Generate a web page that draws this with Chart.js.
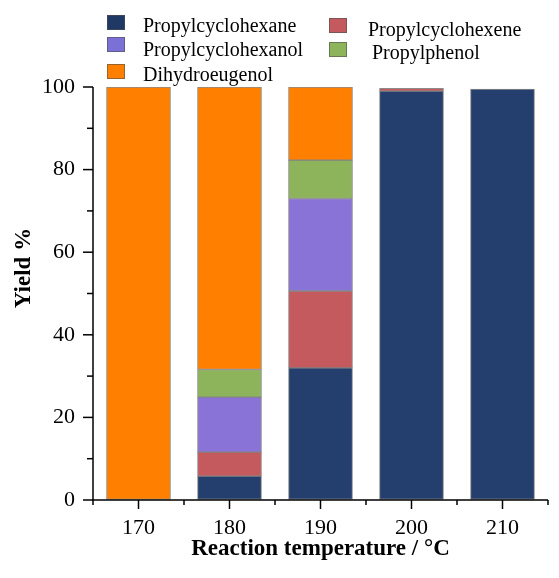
<!DOCTYPE html>
<html>
<head>
<meta charset="utf-8">
<script src="https://cdn.jsdelivr.net/npm/chart.js@4"></script>
<style>
  html, body { margin: 0; padding: 0; background: #fff; }
  #wrap { width: 559px; height: 578px; }
</style>
</head>
<body>
<div id="wrap"><canvas id="c" width="559" height="578"></canvas></div>
<script>
var temps = [170, 180, 190, 200, 210];
var propylcyclohexane  = [0, 5.8, 32.0, 99.0, 99.5];
var propylcyclohexene  = [0, 5.8, 18.6, 0.7, 0];
var propylcyclohexanol = [0, 13.3, 22.4, 0, 0];
var propylphenol       = [0, 6.7, 9.3, 0, 0];
var dihydroeugenol     = [100, 68.4, 17.7, 0, 0];
var yTicks = [0, 20, 40, 60, 80, 100];

function pts(arr){ return temps.map(function(t, i){ return { x: t, y: arr[i] }; }); }

var serif = '"Liberation Serif", "Times New Roman", serif';

// legend layout: [dataset index, box x, box centre y, text x, text centre y]
var legendLayout = [
  [0, 107, 23, 143, 27],
  [2, 107, 45, 143, 51],
  [4, 107, 72, 143, 76],
  [1, 329, 26, 368, 31],
  [3, 329, 50, 372, 54]
];

var customDraw = {
  id: 'customDraw',
  afterDraw: function(chart){
    var ctx = chart.ctx, xs = chart.scales.x, ys = chart.scales.y, a = chart.chartArea;
    ctx.save();
    ctx.strokeStyle = '#000'; ctx.lineWidth = 1.5;
    // axis lines
    ctx.beginPath();
    ctx.moveTo(a.left, a.top); ctx.lineTo(a.left, a.bottom); ctx.lineTo(a.right, a.bottom);
    ctx.stroke();
    // x ticks
    for (var v = 165; v <= 215; v += 5){
      var px = xs.getPixelForValue(v);
      var len = (v % 10 === 0) ? 9 : 5;
      ctx.beginPath(); ctx.moveTo(px, a.bottom); ctx.lineTo(px, a.bottom + len); ctx.stroke();
    }
    // y ticks
    for (var w = 0; w <= 100; w += 10){
      var py = ys.getPixelForValue(w);
      var l2 = (w % 20 === 0) ? 10 : 6;
      ctx.beginPath(); ctx.moveTo(a.left, py); ctx.lineTo(a.left - l2, py); ctx.stroke();
    }
    // titles
    ctx.fillStyle = '#000';
    ctx.font = 'bold 23px ' + serif;
    ctx.textAlign = 'center'; ctx.textBaseline = 'middle';
    ctx.fillText('Reaction temperature / \u00B0C', (a.left + a.right) / 2, 549);
    ctx.translate(24, 268); ctx.rotate(-Math.PI / 2);
    ctx.fillText('Yield %', 0, 0);
    ctx.restore();

    // legend
    ctx.save();
    ctx.font = '20px ' + serif;
    ctx.textAlign = 'left'; ctx.textBaseline = 'middle';
    legendLayout.forEach(function(item){
      var d = chart.data.datasets[item[0]];
      ctx.fillStyle = d.legendColor || d.backgroundColor;
      ctx.fillRect(item[1], item[2] - 8, 18, 15);
      ctx.strokeStyle = 'rgba(80,80,80,0.6)'; ctx.lineWidth = 1;
      ctx.strokeRect(item[1] + 0.5, item[2] - 7.5, 17, 14);
      ctx.fillStyle = '#000';
      ctx.fillText(d.label, item[3], item[4]);
    });
    ctx.restore();
  }
};

function ds(label, data, color, legendColor){
  return { label: label, data: pts(data), backgroundColor: color, legendColor: legendColor,
           borderColor: 'rgba(90,90,90,0.7)', borderWidth: 1, barThickness: 64, borderSkipped: false };
}

new Chart(document.getElementById('c'), {
  type: 'bar',
  data: {
    datasets: [
      ds('Propylcyclohexane', propylcyclohexane, '#243f6e', '#1f3864'),
      ds('Propylcyclohexene', propylcyclohexene, '#c55a5e'),
      ds('Propylcyclohexanol', propylcyclohexanol, '#8a73d6', '#7b70d6'),
      ds('Propylphenol', propylphenol, '#8db45a'),
      ds('Dihydroeugenol', dihydroeugenol, '#ff8000')
    ]
  },
  plugins: [customDraw],
  options: {
    responsive: false,
    animation: false,
    layout: { padding: { left: 0, right: 11, top: 87, bottom: 0 } },
    plugins: { legend: { display: false }, tooltip: { enabled: false } },
    scales: {
      x: {
        type: 'linear', stacked: true, min: 165, max: 215, offset: false,
        afterFit: function(s){ s.height = 78; },
        border: { display: false },
        grid: { color: 'transparent', drawOnChartArea: false, tickLength: 9 },
        ticks: { stepSize: 5, padding: 6, autoSkip: false, maxRotation: 0, color: '#000',
                 font: { family: serif, size: 22 },
                 callback: function(v){ return temps.indexOf(v) >= 0 ? String(v) : ''; } }
      },
      y: {
        stacked: true, min: 0, max: 100,
        afterFit: function(s){ s.width = 93; },
        border: { display: false },
        grid: { color: 'transparent', drawOnChartArea: false, tickLength: 10 },
        afterBuildTicks: function(s){ s.ticks = yTicks.map(function(v){ return { value: v }; }); },
        ticks: { padding: 8, color: '#000', font: { family: serif, size: 22 },
                 callback: function(v){ return String(v); } }
      }
    }
  }
});
</script>
</body>
</html>
